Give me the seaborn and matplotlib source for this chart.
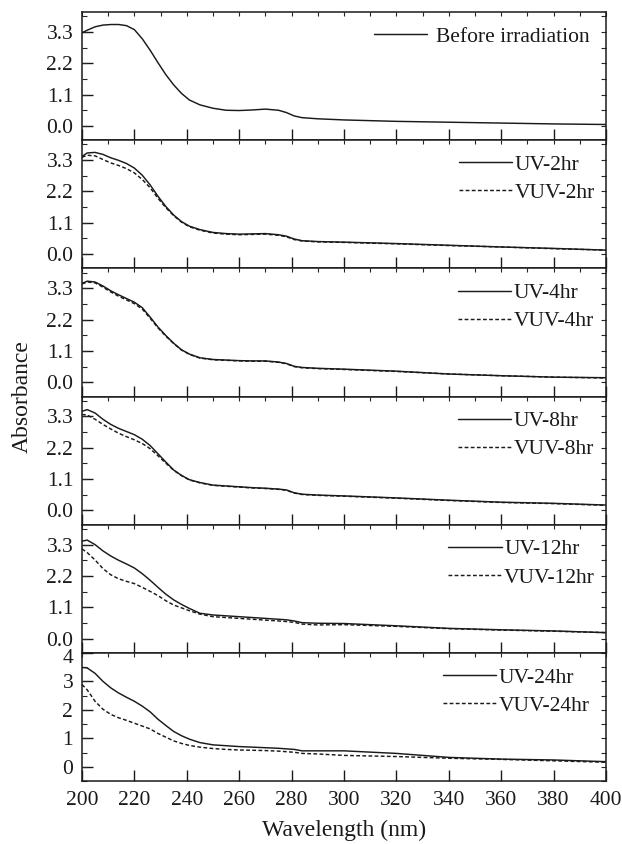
import numpy as np
import pandas as pd
import matplotlib
matplotlib.use("Agg")
import matplotlib.pyplot as plt
from matplotlib.ticker import MultipleLocator, FixedLocator, FormatStrFormatter
from matplotlib.transforms import ScaledTranslation
import seaborn as sns

sns.set_style("ticks")
plt.rcParams["font.family"] = ["Liberation Serif", "DejaVu Serif"]
plt.rcParams["axes.linewidth"] = 1.1

# Wavelength grid (nm)
wavelength = [200, 202, 205, 208, 211, 214, 217, 220, 223, 226, 229, 232, 235, 238, 241,
              245, 250, 255, 260, 265, 270, 275, 278, 281, 284, 290, 300, 320, 340, 360,
              380, 400]

# Absorbance spectra
before = [3.27, 3.36, 3.48, 3.54, 3.56, 3.56, 3.52, 3.38, 3.06, 2.66, 2.22, 1.80, 1.44, 1.14, 0.91,
          0.74, 0.62, 0.55, 0.54, 0.56, 0.59, 0.55, 0.47, 0.35, 0.29, 0.25, 0.21, 0.16, 0.13, 0.10,
          0.07, 0.05]

uv_2 = [3.43, 3.55, 3.57, 3.50, 3.38, 3.29, 3.18, 3.02, 2.77, 2.43, 2.03, 1.67, 1.37, 1.14, 0.98,
        0.86, 0.76, 0.72, 0.70, 0.71, 0.72, 0.68, 0.63, 0.53, 0.47, 0.44, 0.42, 0.37, 0.31, 0.25,
        0.20, 0.14]
vuv_2 = [3.40, 3.47, 3.45, 3.32, 3.20, 3.11, 3.00, 2.85, 2.62, 2.33, 1.96, 1.63, 1.35, 1.12, 0.96,
         0.84, 0.74, 0.70, 0.68, 0.69, 0.70, 0.66, 0.61, 0.51, 0.46, 0.43, 0.41, 0.36, 0.30, 0.25,
         0.19, 0.14]

uv_4 = [3.47, 3.55, 3.52, 3.38, 3.21, 3.07, 2.94, 2.81, 2.62, 2.29, 1.94, 1.64, 1.37, 1.14, 0.99,
        0.86, 0.80, 0.78, 0.76, 0.75, 0.75, 0.71, 0.66, 0.56, 0.52, 0.49, 0.46, 0.39, 0.29, 0.23,
        0.18, 0.16]
vuv_4 = [3.45, 3.52, 3.49, 3.34, 3.17, 3.02, 2.89, 2.76, 2.57, 2.25, 1.91, 1.62, 1.36, 1.13, 0.98,
         0.85, 0.79, 0.77, 0.75, 0.74, 0.74, 0.70, 0.65, 0.55, 0.51, 0.48, 0.45, 0.38, 0.29, 0.23,
         0.18, 0.15]

uv_8 = [3.48, 3.54, 3.42, 3.20, 3.02, 2.88, 2.77, 2.66, 2.50, 2.28, 1.99, 1.70, 1.42, 1.23, 1.08,
        0.98, 0.89, 0.86, 0.83, 0.80, 0.78, 0.75, 0.72, 0.62, 0.57, 0.54, 0.51, 0.44, 0.36, 0.29,
        0.25, 0.19]
vuv_8 = [3.37, 3.35, 3.20, 3.02, 2.86, 2.71, 2.59, 2.48, 2.35, 2.17, 1.92, 1.66, 1.41, 1.22, 1.07,
         0.97, 0.88, 0.85, 0.82, 0.79, 0.77, 0.74, 0.71, 0.61, 0.56, 0.53, 0.50, 0.43, 0.35, 0.28,
         0.24, 0.18]

uv_12 = [3.42, 3.46, 3.30, 3.08, 2.90, 2.75, 2.62, 2.48, 2.28, 2.05, 1.80, 1.56, 1.36, 1.20, 1.06,
         0.89, 0.83, 0.80, 0.77, 0.74, 0.71, 0.68, 0.66, 0.62, 0.56, 0.54, 0.53, 0.45, 0.36, 0.31,
         0.27, 0.21]
vuv_12 = [3.15, 3.02, 2.76, 2.46, 2.24, 2.10, 2.01, 1.93, 1.80, 1.66, 1.51, 1.33, 1.18, 1.08, 0.98,
          0.86, 0.77, 0.74, 0.71, 0.68, 0.65, 0.62, 0.60, 0.57, 0.51, 0.48, 0.49, 0.43, 0.35, 0.30,
          0.26, 0.21]

uv_24 = [3.49, 3.47, 3.28, 3.00, 2.77, 2.59, 2.44, 2.30, 2.13, 1.93, 1.67, 1.45, 1.24, 1.09, 0.97,
         0.85, 0.77, 0.74, 0.71, 0.69, 0.67, 0.65, 0.63, 0.61, 0.56, 0.56, 0.56, 0.47, 0.33, 0.27,
         0.24, 0.18]
vuv_24 = [2.89, 2.70, 2.30, 2.02, 1.84, 1.72, 1.63, 1.53, 1.43, 1.33, 1.17, 1.04, 0.91, 0.82, 0.75,
          0.69, 0.64, 0.61, 0.59, 0.58, 0.57, 0.55, 0.53, 0.51, 0.47, 0.45, 0.40, 0.36, 0.30, 0.26,
          0.21, 0.16]

panels = [
    [("Before irradiation", before)],
    [("UV-2hr", uv_2), ("VUV-2hr", vuv_2)],
    [("UV-4hr", uv_4), ("VUV-4hr", vuv_4)],
    [("UV-8hr", uv_8), ("VUV-8hr", vuv_8)],
    [("UV-12hr", uv_12), ("VUV-12hr", vuv_12)],
    [("UV-24hr", uv_24), ("VUV-24hr", vuv_24)],
]

# right edge of each legend, in axes fraction
legend_right = [0.9695, 0.979, 0.977, 0.977, 0.979, 0.9695]

ink = "#1a1a1a"
dash = (0, (2.6, 1.6))

fig, axes = plt.subplots(6, 1, figsize=(6.22, 8.44), dpi=100, sharex=True)
fig.subplots_adjust(left=0.1318, right=0.9743, top=0.9858, bottom=0.0746, hspace=0)

for i, (ax, series) in enumerate(zip(axes, panels)):
    for j, (name, values) in enumerate(series):
        df = pd.DataFrame({"wavelength": wavelength, "absorbance": values})
        sns.lineplot(data=df, x="wavelength", y="absorbance", ax=ax, color=ink,
                     linewidth=1.05, linestyle="-" if j == 0 else dash, label=name)

    ax.set_xlim(200, 400)
    ax.set_ylim(-0.5, 4.0)
    ax.set_xlabel("")
    ax.set_ylabel("")

    ax.xaxis.set_major_locator(MultipleLocator(20))
    ax.xaxis.set_minor_locator(MultipleLocator(10))
    ax.xaxis.remove_overlapping_locs = False
    ax.yaxis.remove_overlapping_locs = False
    if i < 5:
        ax.yaxis.set_major_locator(FixedLocator([0.0, 1.1, 2.2, 3.3]))
        ax.yaxis.set_minor_locator(MultipleLocator(0.55))
        ax.yaxis.set_major_formatter(FormatStrFormatter("%.1f"))
    else:
        ax.yaxis.set_major_locator(FixedLocator([0, 1, 2, 3, 4]))
        ax.yaxis.set_minor_locator(MultipleLocator(0.5))
        ax.yaxis.set_major_formatter(FormatStrFormatter("%d"))

    ax.tick_params(axis="x", which="major", direction="in", length=8, width=1.0,
                   top=False, bottom=True, labelbottom=(i == 5), labelsize=15.5,
                   colors=ink, pad=7)
    ax.tick_params(axis="x", which="minor", direction="in", length=3, width=0.8,
                   top=True, bottom=False)
    ax.tick_params(axis="y", which="major", direction="in", length=8, width=1.0,
                   left=True, right=False, labelsize=15.5, colors=ink, pad=6.3)
    ax.tick_params(axis="y", which="minor", direction="in", length=3.5, width=0.8,
                   left=True, right=True)
    for sp in ax.spines.values():
        sp.set_visible(True)
        sp.set_color(ink)

    leg = ax.legend(loc="upper right", bbox_to_anchor=(legend_right[i], 0.885),
                    frameon=False, fontsize=15.5, handlelength=2.47,
                    handletextpad=0.42 if i == 0 else 0.12,
                    labelspacing=0.37, borderpad=0, borderaxespad=0)
    for t in leg.get_texts():
        t.set_color(ink)

# nudge the top "4" label of the last panel just below the panel boundary
top_tick = axes[-1].yaxis.get_major_ticks()[-1]
top_tick.label1.set_transform(top_tick.label1.get_transform()
                              + ScaledTranslation(0, -2.5 / 72, fig.dpi_scale_trans))

axes[-1].set_xlabel("Wavelength (nm)", fontsize=17, color=ink, labelpad=7)
fig.text(0.036, 0.530, "Absorbance", rotation=90, ha="center", va="center",
         fontsize=17, color=ink)

fig.savefig("out.png", dpi=100)
